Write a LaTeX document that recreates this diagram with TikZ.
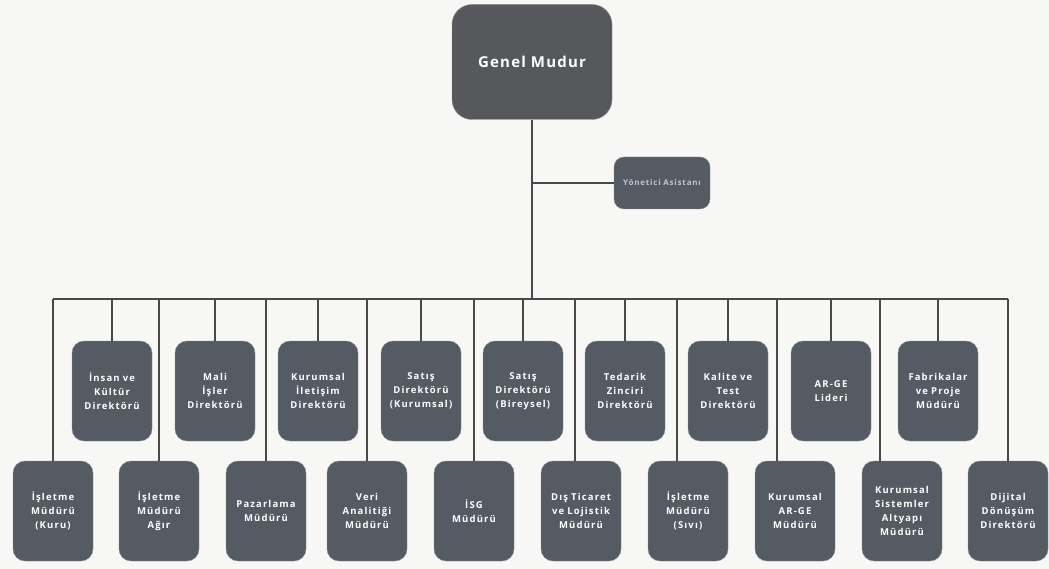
\documentclass[tikz,border=0pt]{standalone}
\usepackage{fontspec}
\setmainfont{Open Sans}
\usepackage{xcolor}
\usetikzlibrary{positioning,calc}

\definecolor{boxgray}{RGB}{84,91,98}
\definecolor{headgray}{RGB}{86,88,92}
\definecolor{linegray}{RGB}{72,72,72}
\definecolor{paper}{RGB}{247,247,245}

\begin{document}
\begin{tikzpicture}[
    x=1pt, y=-1pt,
    box/.style={
        fill=boxgray,
        draw=boxgray!70,
        rounded corners=12pt,
        minimum width=80pt,
        minimum height=100pt,
        text width=76pt,
        align=center,
        text=white,
        inner sep=0pt,
        font=\fontsize{9.5}{14}\selectfont\bfseries\addfontfeature{LetterSpace=12}
    },
    headbox/.style={
        box,
        fill=headgray,
        draw=headgray!70,
        rounded corners=20pt,
        minimum width=160pt,
        minimum height=115pt,
        text width=156pt,
        font=\fontsize{15}{18}\selectfont\bfseries\addfontfeature{LetterSpace=8}
    },
    helperbox/.style={
        box,
        rounded corners=10pt,
        minimum width=96pt,
        minimum height=52pt,
        text width=92pt,
        text=white!65!boxgray,
        font=\fontsize{8}{10}\selectfont\bfseries\addfontfeature{LetterSpace=10}
    },
    link/.style={draw=linegray, line width=1.1pt}
]

% Page
\fill[paper] (0,0) rectangle (1049,569);
\useasboundingbox (0,0) rectangle (1049,569);

% Head
\node[headbox] (gm) at (532,62) {Genel Mudur};
\node[helperbox] (asst) at (662,183) {Yönetici Asistanı};

% Top row
\node[box] (t1) at (112,391) {İnsan ve\\Kültür\\Direktörü};
\node[box] (t2) at (215,391) {Mali\\İşler\\Direktörü};
\node[box] (t3) at (318,391) {Kurumsal\\İletişim\\Direktörü};
\node[box] (t4) at (421,391) {Satış\\Direktörü\\(Kurumsal)};
\node[box] (t5) at (523,391) {Satış\\Direktörü\\(Bireysel)};
\node[box] (t6) at (625,391) {Tedarik\\Zinciri\\Direktörü};
\node[box] (t7) at (728,391) {Kalite ve\\Test\\Direktörü};
\node[box] (t8) at (831,391) {AR-GE\\Lideri};
\node[box] (t9) at (938,391) {Fabrikalar\\ve Proje\\Müdürü};

% Bottom row
\node[box] (b1) at (53,511) {İşletme\\Müdürü\\(Kuru)};
\node[box] (b2) at (159,511) {İşletme\\Müdürü\\Ağır};
\node[box] (b3) at (266,511) {Pazarlama\\Müdürü};
\node[box] (b4) at (367,511) {Veri\\Analitiği\\Müdürü};
\node[box] (b5) at (474,511) {İSG\\Müdürü};
\node[box] (b6) at (581,511) {Dış Ticaret\\ve Lojistik\\Müdürü};
\node[box] (b7) at (688,511) {İşletme\\Müdürü\\(Sıvı)};
\node[box] (b8) at (795,511) {Kurumsal\\AR-GE\\Müdürü};
\node[box] (b9) at (902,511) {Kurumsal\\Sistemler\\Altyapı\\Müdürü};
\node[box] (b10) at (1008,511) {Dijital\\Dönüşüm\\Direktörü};

% Trunk and bus
\coordinate (bus) at (532,299);
\draw[link] (gm.south) -- (bus);
\draw[link] (asst.west) -- (asst.west -| bus);
\draw[link] (b1.north |- bus) -- (b10.north |- bus);

% Drops to top row
\draw[link] (t1.north |- bus) -- (t1.north);
\draw[link] (t2.north |- bus) -- (t2.north);
\draw[link] (t3.north |- bus) -- (t3.north);
\draw[link] (t4.north |- bus) -- (t4.north);
\draw[link] (t5.north |- bus) -- (t5.north);
\draw[link] (t6.north |- bus) -- (t6.north);
\draw[link] (t7.north |- bus) -- (t7.north);
\draw[link] (t8.north |- bus) -- (t8.north);
\draw[link] (t9.north |- bus) -- (t9.north);

% Drops to bottom row (some run off-centre, between the top boxes)
\draw[link] (b1.north |- bus) -- (b1.north);
\draw[link] (b2.north |- bus) -- (b2.north);
\draw[link] (b3.north |- bus) -- (b3.north);
\draw[link] (b4.north |- bus) -- (b4.north);
\draw[link] (b5.north |- bus) -- (b5.north);
\draw[link] ([xshift=-6pt]b6.north |- bus) -- ([xshift=-6pt]b6.north);
\draw[link] ([xshift=-11pt]b7.north |- bus) -- ([xshift=-11pt]b7.north);
\draw[link] ([xshift=-18pt]b8.north |- bus) -- ([xshift=-18pt]b8.north);
\draw[link] ([xshift=-22pt]b9.north |- bus) -- ([xshift=-22pt]b9.north);
\draw[link] (b10.north |- bus) -- (b10.north);

\end{tikzpicture}
\end{document}
